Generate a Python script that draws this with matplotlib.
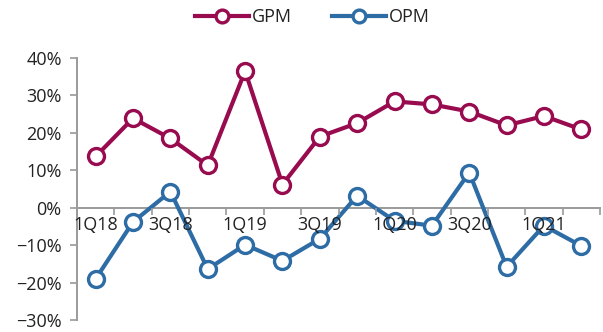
import matplotlib
matplotlib.use("Agg")
import matplotlib.pyplot as plt
from matplotlib.ticker import FixedLocator, FuncFormatter

quarters = ["1Q18", "2Q18", "3Q18", "4Q18", "1Q19", "2Q19", "3Q19", "4Q19",
            "1Q20", "2Q20", "3Q20", "4Q20", "1Q21", "2Q21"]
gpm = [13.7, 23.9, 18.5, 11.3, 36.5, 6.2, 19.0, 22.6, 28.4, 27.6, 25.7, 22.0, 24.5, 20.9]
opm = [-19.0, -3.8, 4.3, -16.4, -9.9, -14.2, -8.3, 3.2, -3.5, -4.8, 9.4, -15.8, -4.8, -10.2]
yticks = [-30, -20, -10, 0, 10, 20, 30, 40]

GPM_COLOR = "#980c4f"
OPM_COLOR = "#2d6ca5"
AXIS_GRAY = "#9a9a9a"
TEXT = "#222222"

plt.rcParams["font.family"] = ["Open Sans", "DejaVu Sans"]

fig = plt.figure(figsize=(6.03, 3.32), dpi=100)
ax = fig.add_axes([77 / 603, 1 - 320 / 332, 523 / 603, 262 / 332])

x = list(range(len(quarters)))
style = dict(lw=3.0, marker="o", markersize=11.5, markerfacecolor="white",
             markeredgewidth=2.4, zorder=3)
ax.plot(x, gpm, color=GPM_COLOR, label="GPM", **style)
ax.plot(x, opm, color=OPM_COLOR, label="OPM", **style)

ax.set_xlim(-0.5, len(quarters) - 0.5)
ax.set_ylim(-30, 40)

# y axis
ax.set_yticks(yticks)
ax.yaxis.set_major_formatter(FuncFormatter(lambda v, p: f"{int(v)}%".replace("-", "\u2212")))
ax.tick_params(axis="y", direction="out", length=5, width=1.2, color=AXIS_GRAY,
               labelsize=13, labelcolor=TEXT, pad=6)

# x axis sits on the zero line; tick marks between categories, labels centred
ax.spines["bottom"].set_position(("data", 0))
ax.xaxis.set_major_locator(FixedLocator([i - 0.5 for i in range(len(quarters) + 1)]))
ax.xaxis.set_major_formatter(FuncFormatter(lambda v, p: ""))
ax.xaxis.set_minor_locator(FixedLocator(x[::2]))
ax.xaxis.set_minor_formatter(FuncFormatter(lambda v, p: quarters[int(round(v))]))
ax.tick_params(axis="x", which="major", direction="out", length=5, width=1.2, color=AXIS_GRAY)
ax.tick_params(axis="x", which="minor", length=0, labelsize=13, labelcolor=TEXT, pad=6)

for side in ("top", "right"):
    ax.spines[side].set_visible(False)
for side in ("left", "bottom"):
    ax.spines[side].set_color(AXIS_GRAY)
    ax.spines[side].set_linewidth(1.4)
# category labels are written over the series
ax.xaxis.set_zorder(5)

fig.legend(loc="center", bbox_to_anchor=(0.518, 0.948), ncol=2, frameon=False,
           handlelength=3.0, columnspacing=2.2, handletextpad=0.15,
           markerscale=0.8, fontsize=13, labelcolor=TEXT)

fig.savefig("out.png", dpi=100)
